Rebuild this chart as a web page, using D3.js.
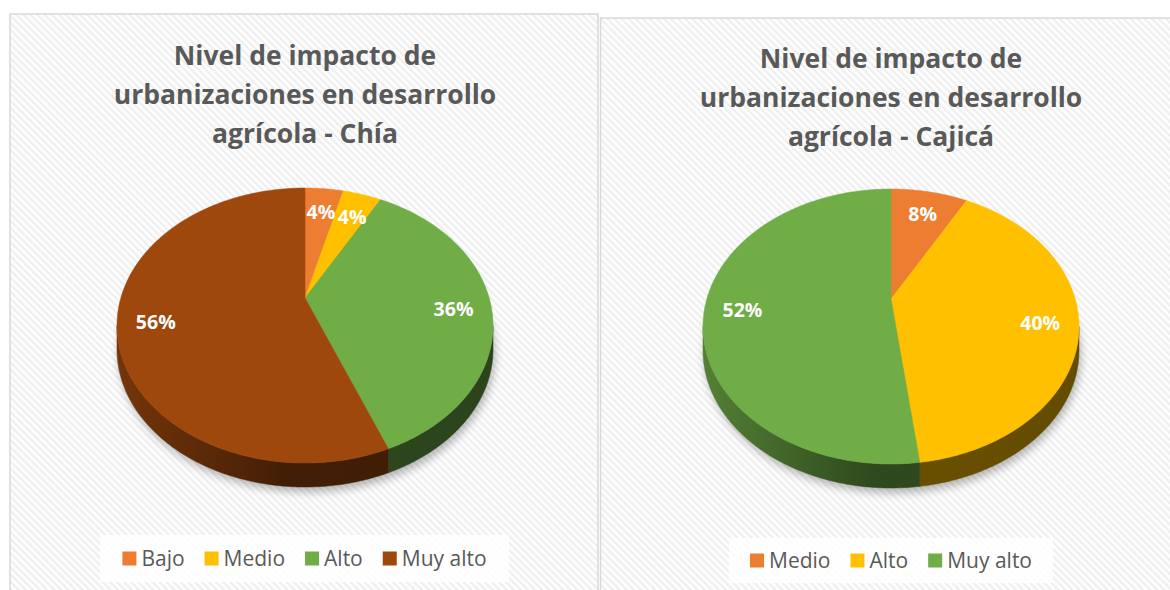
<!DOCTYPE html>
<html>
<head>
<meta charset="utf-8">
<script src="https://cdn.jsdelivr.net/npm/d3@7"></script>
<style>
  body { margin: 0; background: #fff; }
  svg text { font-family: "Open Sans", sans-serif; }
</style>
</head>
<body>
<div id="charts"></div>
<script>
const width = 1170, height = 590;

// chart data
const chiaTitle = ['Nivel de impacto de', 'urbanizaciones en desarrollo', 'agrícola - Chía'];
const chiaCategories = ['Bajo', 'Medio', 'Alto', 'Muy alto'];
const chiaValues = [4, 4, 36, 56];
const chiaColors = ['#ED7D31', '#FFC000', '#70AD47', '#9E480E'];

const cajicaTitle = ['Nivel de impacto de', 'urbanizaciones en desarrollo', 'agrícola - Cajicá'];
const cajicaCategories = ['Medio', 'Alto', 'Muy alto'];
const cajicaValues = [8, 40, 52];
const cajicaColors = ['#ED7D31', '#FFC000', '#70AD47'];

// perspective of the 3d pie
const persp = { A: 921, B: 660, k: 5, depth: 24 };
const labelRadius = 0.8;

const panels = [
    { x: 10, y: 14, w: 588, h: 600, cx: 305, cy: 298, titleY: 55,
      title: chiaTitle, cats: chiaCategories, vals: chiaValues, colors: chiaColors,
      legend: { x: 100, y: 535, w: 409, h: 47 } },
    { x: 600.5, y: 18, w: 600, h: 600, cx: 891, cy: 299, titleY: 58,
      title: cajicaTitle, cats: cajicaCategories, vals: cajicaValues, colors: cajicaColors,
      legend: { x: 729, y: 538, w: 324, h: 45 } }
];

function proj(theta, r, cx, cy) {
    const s = Math.sin(theta), c = Math.cos(theta);
    const d = persp.k + r * c;
    return [cx + persp.A * r * s / d, cy - persp.B * r * c / d];
}

function arcPoints(a0, a1, cx, cy, dy) {
    const n = Math.max(2, Math.ceil((a1 - a0) / 0.01));
    const pts = [];
    for (let i = 0; i <= n; i++) {
        const t = a0 + (a1 - a0) * i / n;
        const p = proj(t, 1, cx, cy);
        pts.push([p[0], p[1] + (dy || 0)]);
    }
    return pts;
}

function shade(col, f) {
    const c = d3.rgb(col);
    return d3.rgb(c.r * f, c.g * f, c.b * f).formatHex();
}

const svg = d3.select('#charts').append('svg')
    .attr('width', width)
    .attr('height', height);

const defs = svg.append('defs');

const pattern = defs.append('pattern')
    .attr('id', 'hatch')
    .attr('patternUnits', 'userSpaceOnUse')
    .attr('width', 5).attr('height', 5)
    .attr('patternTransform', 'rotate(-45)');
pattern.append('rect').attr('width', 5).attr('height', 5).attr('fill', '#ffffff');
pattern.append('rect').attr('width', 2.4).attr('height', 5).attr('fill', '#efefef');

defs.append('filter')
    .attr('id', 'blur')
    .attr('x', '-20%').attr('y', '-20%').attr('width', '140%').attr('height', '140%')
    .append('feGaussianBlur').attr('stdDeviation', 4);

const line = d3.line();

function drawPanel(p, idx) {
    const g = svg.append('g');

    g.append('rect')
        .attr('x', p.x).attr('y', p.y)
        .attr('width', p.w).attr('height', p.h)
        .attr('fill', 'url(#hatch)')
        .attr('stroke', '#d9d9d9')
        .attr('stroke-width', 1.5);

    g.append('text')
        .attr('text-anchor', 'middle')
        .attr('fill', '#595959')
        .style('font-size', '26.5px')
        .style('font-weight', 'bold')
        .selectAll('tspan')
        .data(p.title)
        .enter().append('tspan')
        .attr('x', p.cx)
        .attr('y', (d, i) => p.titleY + i * 39)
        .attr('dy', '0.36em')
        .text(d => d);

    const pie = d3.pie().sort(null).value(d => d)(p.vals);

    // shadow under the pie
    const rim = arcPoints(0, 2 * Math.PI, p.cx, p.cy, persp.depth + 3);
    g.append('path')
        .attr('d', line(rim) + 'Z')
        .attr('transform', 'translate(2,2)')
        .attr('fill', '#000')
        .attr('opacity', 0.28)
        .attr('filter', 'url(#blur)');

    // side walls
    const tL = Math.acos(-1 / persp.k), tR = 2 * Math.PI - tL;
    const xL = proj(tL, 1, p.cx, p.cy)[0], xR = proj(tR, 1, p.cx, p.cy)[0];
    pie.forEach((s, i) => {
        const a0 = Math.max(s.startAngle, tL), a1 = Math.min(s.endAngle, tR);
        if (a1 <= a0) return;
        const gid = 'side' + idx + '_' + i;
        const grad = defs.append('linearGradient')
            .attr('id', gid)
            .attr('gradientUnits', 'userSpaceOnUse')
            .attr('x1', xR).attr('x2', xL).attr('y1', 0).attr('y2', 0);
        grad.append('stop').attr('offset', 0).attr('stop-color', shade(p.colors[i], 0.74));
        grad.append('stop').attr('offset', 0.45).attr('stop-color', shade(p.colors[i], 0.42));
        grad.append('stop').attr('offset', 1).attr('stop-color', shade(p.colors[i], 0.39));
        const top = arcPoints(a0, a1, p.cx, p.cy, 0);
        const bottom = arcPoints(a0, a1, p.cx, p.cy, persp.depth).reverse();
        g.append('path')
            .attr('d', line(top.concat(bottom)) + 'Z')
            .attr('fill', `url(#${gid})`)
            .attr('stroke', `url(#${gid})`)
            .attr('stroke-width', 0.5);
    });

    // top faces
    pie.forEach((s, i) => {
        const pts = [[p.cx, p.cy]].concat(arcPoints(s.startAngle, s.endAngle, p.cx, p.cy, 0));
        g.append('path')
            .attr('d', line(pts) + 'Z')
            .attr('fill', p.colors[i])
            .attr('stroke', p.colors[i])
            .attr('stroke-width', 0.5);
    });

    // data labels
    const total = d3.sum(p.vals);
    g.selectAll('.lbl')
        .data(pie)
        .enter().append('text')
        .attr('class', 'lbl')
        .attr('x', d => proj((d.startAngle + d.endAngle) / 2, labelRadius, p.cx, p.cy)[0])
        .attr('y', d => proj((d.startAngle + d.endAngle) / 2, labelRadius, p.cx, p.cy)[1] + 4)
        .attr('dy', '0.36em')
        .attr('text-anchor', 'middle')
        .attr('fill', '#ffffff')
        .style('font-size', '19.5px')
        .style('font-weight', 'bold')
        .text(d => Math.round(d.data / total * 100) + '%');

    // legend
    const L = p.legend;
    g.append('rect')
        .attr('x', L.x).attr('y', L.y)
        .attr('width', L.w).attr('height', L.h)
        .attr('fill', '#ffffff')
        .attr('opacity', 0.85);
    const lg = g.append('g');
    const items = lg.selectAll('g').data(p.cats).enter().append('g');
    items.append('rect')
        .attr('width', 14).attr('height', 14)
        .attr('y', -7)
        .attr('fill', (d, i) => p.colors[i]);
    items.append('text')
        .attr('x', 19)
        .attr('dy', '0.35em')
        .attr('fill', '#595959')
        .style('font-size', '21px')
        .text(d => d);
    let xpos = 0;
    items.each(function() {
        const w = 19 + d3.select(this).select('text').node().getComputedTextLength();
        d3.select(this).attr('transform', `translate(${xpos},0)`);
        xpos += w + 20;
    });
    xpos -= 20;
    lg.attr('transform', `translate(${L.x + L.w / 2 - xpos / 2},${L.y + L.h / 2})`);
}

panels.forEach(drawPanel);
</script>
</body>
</html>
